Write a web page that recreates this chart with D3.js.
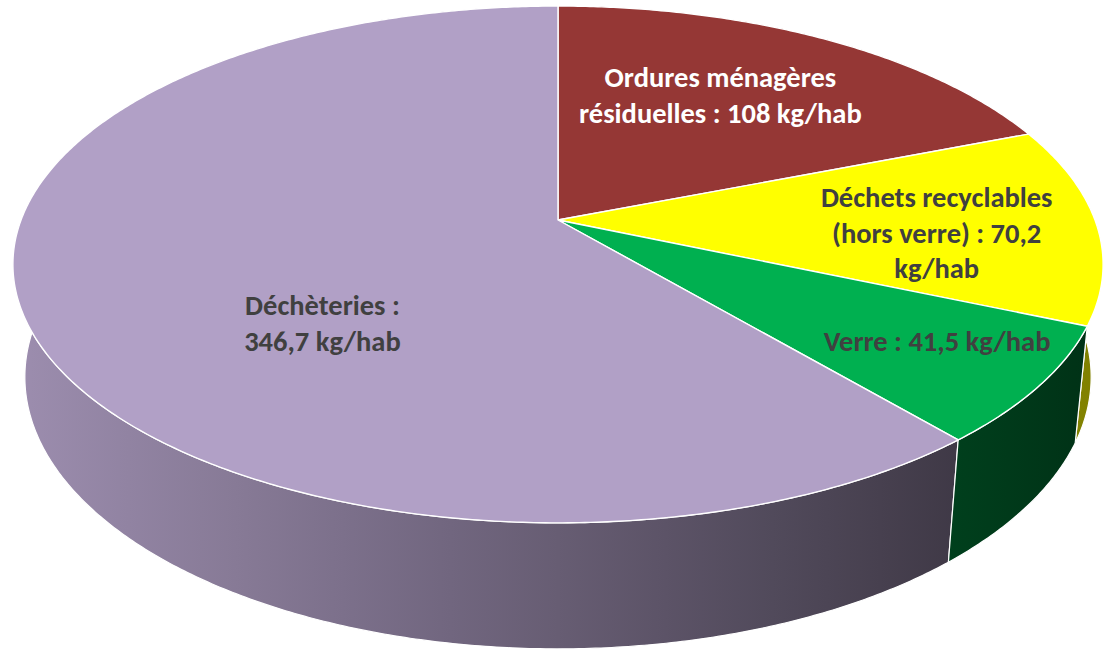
<!DOCTYPE html>
<html>
<head>
<meta charset="utf-8">
<script src="https://cdn.jsdelivr.net/npm/d3@7"></script>
<style>
  html, body { margin: 0; padding: 0; background: #ffffff; }
  svg { display: block; }
</style>
</head>
<body>
<svg id="chart" width="1104" height="651"></svg>
<script>
// ---------------- DATA ----------------
const categories = [
  "Ordures ménagères résiduelles",
  "Déchets recyclables (hors verre)",
  "Verre",
  "Déchèteries"
];
const values = [108, 70.2, 41.5, 346.7];
const labelLines = [
  ["Ordures ménagères", "résiduelles : 108 kg/hab"],
  ["Déchets recyclables", "(hors verre) : 70,2", "kg/hab"],
  ["Verre : 41,5 kg/hab"],
  ["Déchèteries :", "346,7 kg/hab"]
];

// ---------------- STYLE ----------------
const topColors  = ["#953735", "#ffff00", "#00b050", "#b1a0c6"];
const textColors = ["#ffffff", "#404040", "#404040", "#404040"];
const sideBoost  = [0, 0.22, 0, 0];          // extra lightness on the wall
const labelRadius = 0.6;
const labelNudge  = [[-5, -9.5], [56, 11], [103, 27], [78, 50]];
const fontSize = 28.5, lineGap = 35.5;

// perspective camera for the tilted disk
const P = { cx: 558, cy: 220, F: 2760, L: 5.14, sa: 0.467, ca: 0.884, h: 0.2395 };
function proj(theta, r, z) {
  const X = r * Math.sin(theta), Y = r * Math.cos(theta);
  const depth = P.L + Y * P.ca - z * P.sa;
  const up = Y * P.sa + z * P.ca;
  return [P.cx + P.F * X / depth, P.cy - P.F * up / depth];
}

const svg = d3.select("#chart");
const defs = svg.append("defs");

const data = categories.map((c, i) => ({ category: c, value: values[i], i }));
const arcs = d3.pie().sort(null).value(d => d.value).startAngle(0).endAngle(2 * Math.PI)(data);

const line = d3.line().curve(d3.curveLinearClosed);
function arcPts(a0, a1, r, z) {
  const n = Math.max(2, Math.ceil((a1 - a0) / (Math.PI / 360)));
  return d3.range(n + 1).map(k => proj(a0 + (a1 - a0) * k / n, r, z));
}

// horizontal extent for shading
const xLeft = proj(-Math.PI / 2, 1, 0)[0], xRight = proj(Math.PI / 2, 1, 0)[0];
const sOfX = d3.scaleLinear().domain([xLeft, xRight]).range([-1, 1]).clamp(true);
const shade = d3.scaleLinear().domain([-1, 1]).range([0.88, 0.28]);

arcs.forEach(a => {
  const i = a.data.i;
  const g = defs.append("linearGradient")
    .attr("id", "side" + i)
    .attr("gradientUnits", "userSpaceOnUse")
    .attr("x1", xLeft).attr("x2", xRight).attr("y1", 0).attr("y2", 0);
  const base = d3.rgb(topColors[i]);
  d3.range(11).forEach(k => {
    const t = k / 10;
    const x = xLeft + (xRight - xLeft) * t;
    const f = Math.min(1, shade(sOfX(x)) + sideBoost[i]);
    g.append("stop").attr("offset", t)
      .attr("stop-color", d3.rgb(base.r * f, base.g * f, base.b * f).formatHex());
  });
});

// walls (back to front)
const wallOrder = [0, 1, 3, 2];
const walls = svg.append("g");
wallOrder.forEach(idx => {
  const a = arcs[idx];
  const top = arcPts(a.startAngle, a.endAngle, 1, 0);
  const bot = arcPts(a.startAngle, a.endAngle, 1, -P.h).reverse();
  walls.append("path")
    .attr("d", line(top.concat(bot)))
    .attr("fill", `url(#side${a.data.i})`)
    .attr("stroke", "#ffffff")
    .attr("stroke-width", 1.2)
    .attr("stroke-linejoin", "round");
});

// top faces
const tops = svg.append("g");
arcs.forEach(a => {
  const pts = [proj(0, 0, 0)].concat(arcPts(a.startAngle, a.endAngle, 1, 0));
  tops.append("path")
    .attr("d", line(pts))
    .attr("fill", topColors[a.data.i])
    .attr("stroke", "#ffffff")
    .attr("stroke-width", 1.4)
    .attr("stroke-linejoin", "round");
});

// labels
const labels = svg.append("g")
  .attr("font-family", "Calibri, Carlito, Lato, 'Open Sans', sans-serif")
  .attr("font-weight", 700)
  .attr("font-size", fontSize)
  .attr("text-anchor", "middle");
arcs.forEach(a => {
  const i = a.data.i;
  const mid = (a.startAngle + a.endAngle) / 2;
  const c = proj(mid, labelRadius, 0);
  const ax = c[0] + labelNudge[i][0], ay = c[1] + labelNudge[i][1];
  const lines = labelLines[i];
  const t = labels.append("text").attr("fill", textColors[i]);
  lines.forEach((ln, k) => {
    t.append("tspan")
      .attr("x", ax)
      .attr("y", ay + 9 + (k - (lines.length - 1) / 2) * lineGap)
      .text(ln);
  });
});
</script>
</body>
</html>
